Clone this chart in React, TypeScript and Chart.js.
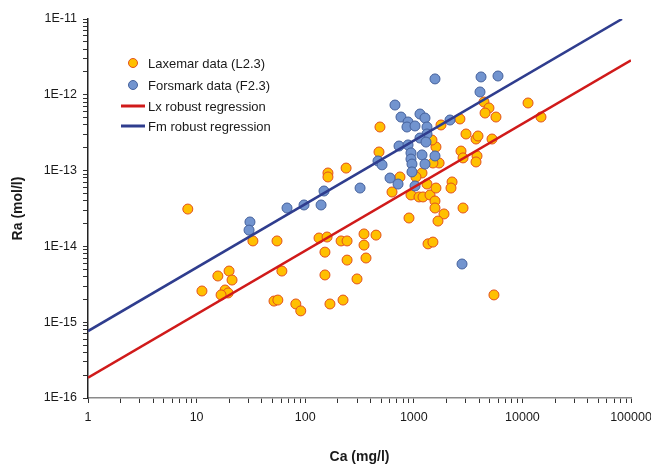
import React, { useEffect, useRef } from "react";
import { Chart, registerables } from "chart.js";

Chart.register(...registerables);

// Laxemar data (L2.3)
const LAXEMAR_CA = [8.3, 33, 55, 134, 159, 214, 243, 152, 243, 61, 152, 300, 15.7, 19.9, 21.2, 11.2, 18.3, 19.5, 16.8, 51.6, 56, 82, 91, 169, 223, 162, 162, 238, 488, 478, 746, 630, 348, 449, 348, 363, 1780, 2660, 3025, 3740, 3900, 5250, 4430, 4920, 4530, 5710, 11270, 14830, 2720, 2840, 3820, 3740, 1600, 1470, 1710, 1500, 1190, 942, 1117, 1215, 1410, 1323, 1600, 2250, 2200, 1567, 1567, 1897, 1670, 2840, 903, 1352, 1500, 5470, 1047];
const LAXEMAR_RA = [3.11e-14, 1.18e-14, 1.18e-14, 1.29e-14, 1.33e-14, 1.18e-14, 1.18e-14, 8.4e-15, 6.6e-15, 4.73e-15, 4.2e-15, 3.72e-15, 4.07e-15, 4.73e-15, 3.6e-15, 2.58e-15, 2.66e-15, 2.43e-15, 2.29e-15, 1.9e-15, 1.96e-15, 1.74e-15, 1.41e-15, 1.74e-15, 1.96e-15, 9.3e-14, 8.24e-14, 1.08e-13, 3.76e-13, 1.76e-13, 8.24e-14, 5.22e-14, 1.46e-14, 1.41e-14, 1.04e-14, 7.03e-15, 4.0e-13, 4.8e-13, 3.04e-13, 2.61e-13, 2.86e-13, 2.61e-13, 8.03e-13, 6.7e-13, 5.75e-13, 5.09e-13, 7.8e-13, 5.09e-13, 1.81e-13, 1.47e-13, 1.56e-13, 1.3e-13, 2.05e-13, 2.53e-13, 1.26e-13, 1.26e-13, 9.3e-14, 4.77e-14, 4.49e-14, 4.49e-14, 4.77e-14, 6.65e-14, 5.89e-14, 7.08e-14, 5.89e-14, 3.97e-14, 3.21e-14, 2.68e-14, 2.16e-14, 3.21e-14, 2.37e-14, 1.08e-14, 1.14e-14, 2.29e-15, 8.24e-14];

// Forsmark data (F2.3)
const FORSMARK_CA = [31, 30.4, 68, 97.5, 140, 149, 320, 1567, 4160, 5960, 4070, 671, 762, 1140, 1268, 885, 865, 1026, 1323, 1323, 2154, 1140, 1295, 731, 885, 942, 1190, 1567, 942, 962, 1268, 468, 510, 962, 604, 716, 1026, 2780];
const FORSMARK_RA = [2.1e-14, 1.64e-14, 3.21e-14, 3.52e-14, 3.52e-14, 5.38e-14, 5.89e-14, 1.62e-12, 1.72e-12, 1.77e-12, 1.09e-12, 7.33e-13, 5.09e-13, 5.58e-13, 4.94e-13, 4.38e-13, 3.76e-13, 3.88e-13, 3.76e-13, 3.04e-13, 4.65e-13, 2.69e-13, 2.38e-13, 2.11e-13, 2.18e-13, 1.71e-13, 1.61e-13, 1.56e-13, 1.42e-13, 1.22e-13, 1.22e-13, 1.34e-13, 1.19e-13, 9.6e-14, 7.98e-14, 6.65e-14, 6.27e-14, 5.86e-15];

// Robust regression lines (end points)
const LX_LINE_CA = [1, 100000];
const LX_LINE_RA = [1.85e-16, 2.85e-12];
const FM_LINE_CA = [1, 82600];
const FM_LINE_RA = [7.65e-16, 1e-11];

const X_TICKS = [1, 10, 100, 1000, 10000, 100000];
const X_TICK_LABELS = ["1", "10", "100", "1000", "10000", "100000"];
const Y_TICKS = [1e-16, 1e-15, 1e-14, 1e-13, 1e-12, 1e-11];
const Y_TICK_LABELS = ["1E-16", "1E-15", "1E-14", "1E-13", "1E-12", "1E-11"];

const LEGEND_LABELS = [
  "Laxemar data (L2.3)",
  "Forsmark data (F2.3)",
  "Lx robust regression",
  "Fm robust regression",
];

const ORANGE_FILL = "#FFC000";
const ORANGE_BORDER = "#E2501E";
const BLUE_FILL = "#7294CF";
const BLUE_BORDER = "#45619C";
const RED_LINE = "#D01A1A";
const BLUE_LINE = "#2F3D8E";

const FONT = "'Liberation Sans', Arial, sans-serif";

function logTicks(majors: number[]) {
  const out: { value: number }[] = [];
  for (let i = 0; i < majors.length; i++) {
    out.push({ value: majors[i] });
    if (i < majors.length - 1) {
      for (let m = 2; m <= 9; m++) out.push({ value: majors[i] * m });
    }
  }
  return out;
}

function labelFor(value: number, ticks: number[], labels: string[]) {
  for (let i = 0; i < ticks.length; i++) {
    if (Math.abs(value / ticks[i] - 1) < 1e-6) return labels[i];
  }
  return "";
}

const legendPlugin = {
  id: "insideLegend",
  afterDraw(chart: any) {
    const { ctx, chartArea } = chart;
    const mx = chartArea.left + 45;
    const tx = chartArea.left + 60;
    const rows = [44, 66, 87, 107];
    ctx.save();
    ctx.font = `13px ${FONT}`;
    ctx.fillStyle = "#1a1a1a";
    ctx.textBaseline = "middle";
    ctx.textAlign = "left";
    rows.forEach((dy, i) => {
      const y = chartArea.top + dy;
      if (i < 2) {
        ctx.beginPath();
        ctx.arc(mx, y, 4.5, 0, Math.PI * 2);
        ctx.fillStyle = i === 0 ? ORANGE_FILL : BLUE_FILL;
        ctx.fill();
        ctx.lineWidth = 1;
        ctx.strokeStyle = i === 0 ? ORANGE_BORDER : BLUE_BORDER;
        ctx.stroke();
      } else {
        ctx.beginPath();
        ctx.moveTo(mx - 12, y);
        ctx.lineTo(mx + 12, y);
        ctx.lineWidth = 3;
        ctx.strokeStyle = i === 2 ? RED_LINE : BLUE_LINE;
        ctx.stroke();
      }
      ctx.fillStyle = "#1a1a1a";
      ctx.fillText(LEGEND_LABELS[i], tx, y + 1);
    });
    ctx.restore();
  },
};

export default function App() {
  const ref = useRef<HTMLCanvasElement | null>(null);

  useEffect(() => {
    document.body.style.margin = "0";
    const canvas = ref.current;
    if (!canvas) return;

    const lax = LAXEMAR_CA.map((x, i) => ({ x, y: LAXEMAR_RA[i] }));
    const fors = FORSMARK_CA.map((x, i) => ({ x, y: FORSMARK_RA[i] }));
    const lxLine = LX_LINE_CA.map((x, i) => ({ x, y: LX_LINE_RA[i] }));
    const fmLine = FM_LINE_CA.map((x, i) => ({ x, y: FM_LINE_RA[i] }));

    const chart = new Chart(canvas, {
      type: "scatter",
      data: {
        datasets: [
          {
            label: LEGEND_LABELS[0],
            data: lax,
            backgroundColor: ORANGE_FILL,
            borderColor: ORANGE_BORDER,
            borderWidth: 1,
            pointRadius: 5,
            order: 4,
          },
          {
            label: LEGEND_LABELS[1],
            data: fors,
            backgroundColor: BLUE_FILL,
            borderColor: BLUE_BORDER,
            borderWidth: 1,
            pointRadius: 5,
            order: 3,
          },
          {
            label: LEGEND_LABELS[2],
            data: lxLine,
            showLine: true,
            borderColor: RED_LINE,
            borderWidth: 2.6,
            pointRadius: 0,
            order: 2,
          },
          {
            label: LEGEND_LABELS[3],
            data: fmLine,
            showLine: true,
            borderColor: BLUE_LINE,
            borderWidth: 2.6,
            pointRadius: 0,
            order: 1,
          },
        ],
      },
      options: {
        responsive: false,
        animation: false,
        events: [],
        layout: { padding: { left: 0, right: 20, top: 19, bottom: 0 } },
        plugins: {
          legend: { display: false },
          tooltip: { enabled: false },
        },
        scales: {
          x: {
            type: "logarithmic",
            min: 1,
            max: 100000,
            afterBuildTicks: (s: any) => {
              s.ticks = logTicks(X_TICKS);
            },
            afterFit: (s: any) => {
              s.height = 72;
              s.paddingLeft = 0;
              s.paddingRight = 0;
            },
            border: { display: true, color: "#8a8a8a", width: 1.5 },
            grid: {
              drawOnChartArea: false,
              drawTicks: true,
              tickLength: 5,
              tickColor: "#333",
            },
            ticks: {
              autoSkip: false,
              maxRotation: 0,
              padding: 7,
              color: "#1a1a1a",
              font: { family: FONT, size: 12.5 },
              callback: (v: any) => labelFor(Number(v), X_TICKS, X_TICK_LABELS),
            },
            title: {
              display: true,
              text: "Ca (mg/l)",
              color: "#1a1a1a",
              font: { family: FONT, size: 14, weight: "bold" },
              padding: { top: 0, bottom: 4 },
            },
          },
          y: {
            type: "logarithmic",
            min: 1e-16,
            max: 1e-11,
            afterBuildTicks: (s: any) => {
              s.ticks = logTicks(Y_TICKS);
            },
            afterFit: (s: any) => {
              s.width = 88;
              s.paddingTop = 0;
              s.paddingBottom = 0;
            },
            border: { display: true, color: "#222", width: 1.5 },
            grid: {
              drawOnChartArea: false,
              drawTicks: true,
              tickLength: 5,
              tickColor: "#333",
            },
            ticks: {
              autoSkip: false,
              padding: 6,
              color: "#1a1a1a",
              font: { family: FONT, size: 12.5 },
              callback: (v: any) => labelFor(Number(v), Y_TICKS, Y_TICK_LABELS),
            },
            title: {
              display: true,
              text: "Ra (mol/l)",
              color: "#1a1a1a",
              font: { family: FONT, size: 14, weight: "bold" },
              padding: { top: 10, bottom: 0 },
            },
          },
        },
      },
      plugins: [legendPlugin],
    } as any);

    return () => chart.destroy();
  }, []);

  return (
    <div style={{ width: 651, height: 470 }}>
      <canvas ref={ref} width={651} height={470} style={{ display: "block" }} />
    </div>
  );
}
